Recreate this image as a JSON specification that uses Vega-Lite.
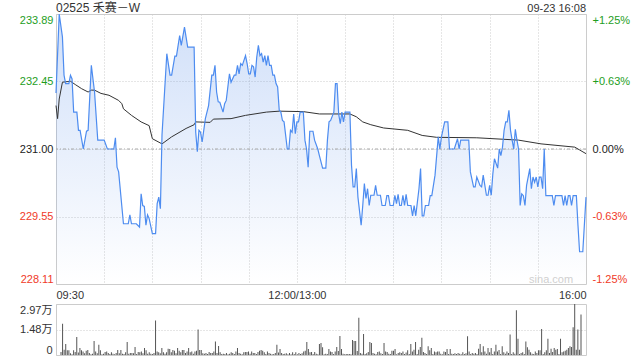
{
  "$schema": "https://vega.github.io/schema/vega-lite/v6.json",
  "padding": {"left": 18, "top": 1, "right": 5, "bottom": 0},
  "background": "white",
  "config": {
    "font": "Liberation Sans, Noto Sans CJK SC, sans-serif",
    "view": {"stroke": "#cccccc"},
    "axis": {
      "labelFont": "Liberation Sans, Noto Sans CJK SC, sans-serif",
      "labelFontSize": 11,
      "labelColor": "#333333",
      "ticks": false,
      "domain": false,
      "gridColor": "#cccccc",
      "gridDash": [1, 2],
      "title": null
    }
  },
  "datasets": {
    "price": [
      {"t":0,"p":232.20},{"t":2,"p":233.89},{"t":4,"p":233.40},{"t":5,"p":232.58},{"t":6,"p":232.40},{"t":8,"p":232.40},{"t":9,"p":232.58},{"t":10,"p":232.50},{"t":11,"p":231.79},{"t":13,"p":231.79},{"t":14,"p":231.40},{"t":15,"p":231.40},{"t":17,"p":231.00},{"t":19,"p":231.38},{"t":20,"p":231.40},{"t":22,"p":232.79},{"t":24,"p":232.22},{"t":26,"p":231.19},{"t":30,"p":231.19},{"t":32,"p":231.00},{"t":36,"p":231.00},{"t":37,"p":231.24},{"t":38,"p":230.61},{"t":39,"p":230.51},{"t":42,"p":229.40},{"t":45,"p":229.40},{"t":46,"p":229.59},{"t":47,"p":229.40},{"t":50,"p":229.40},{"t":52,"p":229.33},{"t":53,"p":230.04},{"t":54,"p":229.79},{"t":55,"p":229.77},{"t":56,"p":229.37},{"t":57,"p":229.59},{"t":58,"p":229.51},{"t":60,"p":229.19},{"t":62,"p":229.19},{"t":63,"p":229.83},{"t":64,"p":229.97},{"t":65,"p":229.72},{"t":66,"p":231.30},{"t":69,"p":233.04},{"t":71,"p":232.58},{"t":72,"p":232.58},{"t":74,"p":232.99},{"t":75,"p":232.99},{"t":77,"p":233.43},{"t":78,"p":233.22},{"t":80,"p":233.61},{"t":82,"p":233.18},{"t":86,"p":233.18},{"t":87,"p":231.36},{"t":88,"p":230.94},{"t":89,"p":231.40},{"t":90,"p":231.36},{"t":91,"p":231.15},{"t":93,"p":231.65},{"t":95,"p":231.93},{"t":97,"p":232.58},{"t":98,"p":232.58},{"t":99,"p":232.79},{"t":100,"p":232.22},{"t":101,"p":232.01},{"t":102,"p":232.00},{"t":104,"p":231.79},{"t":105,"p":231.97},{"t":106,"p":232.04},{"t":108,"p":232.61},{"t":109,"p":232.43},{"t":111,"p":232.58},{"t":112,"p":232.58},{"t":113,"p":232.79},{"t":114,"p":232.61},{"t":115,"p":232.83},{"t":116,"p":232.79},{"t":118,"p":233.00},{"t":119,"p":232.83},{"t":120,"p":232.61},{"t":121,"p":232.61},{"t":122,"p":232.79},{"t":123,"p":232.76},{"t":124,"p":232.54},{"t":125,"p":232.97},{"t":126,"p":233.22},{"t":127,"p":233.00},{"t":128,"p":233.04},{"t":129,"p":232.86},{"t":130,"p":233.00},{"t":131,"p":232.79},{"t":132,"p":233.00},{"t":133,"p":232.79},{"t":134,"p":232.79},{"t":135,"p":232.58},{"t":136,"p":232.58},{"t":137,"p":232.40},{"t":138,"p":232.33},{"t":139,"p":231.83},{"t":140,"p":231.79},{"t":141,"p":231.61},{"t":142,"p":231.58},{"t":144,"p":231.00},{"t":145,"p":231.00},{"t":146,"p":231.40},{"t":147,"p":231.36},{"t":148,"p":231.75},{"t":149,"p":231.33},{"t":150,"p":231.58},{"t":151,"p":231.58},{"t":152,"p":231.79},{"t":154,"p":231.79},{"t":155,"p":231.19},{"t":156,"p":231.00},{"t":157,"p":230.61},{"t":158,"p":231.38},{"t":160,"p":231.38},{"t":161,"p":231.19},{"t":163,"p":231.00},{"t":164,"p":230.86},{"t":166,"p":230.59},{"t":168,"p":230.59},{"t":169,"p":231.19},{"t":170,"p":231.58},{"t":171,"p":231.61},{"t":173,"p":231.79},{"t":174,"p":232.40},{"t":175,"p":232.40},{"t":176,"p":231.75},{"t":177,"p":231.54},{"t":178,"p":231.79},{"t":179,"p":231.58},{"t":180,"p":231.79},{"t":183,"p":231.79},{"t":184,"p":230.65},{"t":185,"p":230.19},{"t":186,"p":230.19},{"t":187,"p":230.58},{"t":188,"p":229.97},{"t":190,"p":229.37},{"t":191,"p":229.79},{"t":192,"p":230.26},{"t":193,"p":229.94},{"t":194,"p":230.15},{"t":195,"p":229.79},{"t":196,"p":230.01},{"t":198,"p":230.01},{"t":199,"p":230.22},{"t":200,"p":230.01},{"t":202,"p":230.01},{"t":203,"p":229.79},{"t":205,"p":229.79},{"t":206,"p":230.00},{"t":207,"p":230.00},{"t":208,"p":229.79},{"t":210,"p":229.79},{"t":211,"p":230.01},{"t":212,"p":229.83},{"t":213,"p":230.03},{"t":214,"p":229.79},{"t":215,"p":229.79},{"t":216,"p":230.01},{"t":217,"p":229.79},{"t":218,"p":230.03},{"t":219,"p":229.79},{"t":221,"p":229.79},{"t":222,"p":229.57},{"t":223,"p":229.79},{"t":224,"p":229.57},{"t":226,"p":230.15},{"t":227,"p":230.58},{"t":228,"p":229.57},{"t":229,"p":229.57},{"t":230,"p":229.79},{"t":232,"p":229.79},{"t":233,"p":230.00},{"t":234,"p":230.00},{"t":236,"p":230.44},{"t":238,"p":231.26},{"t":239,"p":231.00},{"t":240,"p":231.26},{"t":242,"p":231.58},{"t":244,"p":231.58},{"t":245,"p":231.00},{"t":248,"p":231.00},{"t":250,"p":231.22},{"t":251,"p":231.00},{"t":252,"p":231.19},{"t":257,"p":231.19},{"t":258,"p":230.51},{"t":260,"p":230.19},{"t":261,"p":230.19},{"t":262,"p":230.40},{"t":264,"p":230.22},{"t":265,"p":230.19},{"t":266,"p":230.44},{"t":268,"p":230.01},{"t":269,"p":230.01},{"t":270,"p":230.22},{"t":271,"p":230.01},{"t":272,"p":230.47},{"t":273,"p":230.79},{"t":275,"p":230.59},{"t":276,"p":231.00},{"t":277,"p":230.86},{"t":278,"p":231.04},{"t":279,"p":231.40},{"t":280,"p":231.58},{"t":281,"p":231.58},{"t":282,"p":231.83},{"t":283,"p":231.40},{"t":284,"p":231.19},{"t":285,"p":231.00},{"t":286,"p":231.42},{"t":287,"p":231.19},{"t":288,"p":231.00},{"t":289,"p":229.79},{"t":290,"p":230.04},{"t":291,"p":230.00},{"t":292,"p":229.79},{"t":293,"p":230.22},{"t":295,"p":230.58},{"t":296,"p":230.15},{"t":297,"p":230.40},{"t":298,"p":230.29},{"t":299,"p":230.40},{"t":300,"p":230.19},{"t":301,"p":230.40},{"t":302,"p":230.40},{"t":303,"p":230.15},{"t":304,"p":231.00},{"t":305,"p":230.00},{"t":309,"p":230.00},{"t":310,"p":229.79},{"t":311,"p":230.00},{"t":315,"p":230.00},{"t":316,"p":229.79},{"t":317,"p":230.00},{"t":318,"p":229.79},{"t":319,"p":230.00},{"t":320,"p":230.00},{"t":321,"p":229.79},{"t":322,"p":230.00},{"t":324,"p":230.00},{"t":325,"p":229.37},{"t":326,"p":228.80},{"t":328,"p":228.80},{"t":330,"p":229.97}
    ],
    "avg": [
      {"t":0,"a":231.93},{"t":1,"a":231.65},{"t":2,"a":232.07},{"t":4,"a":232.43},{"t":9,"a":232.45},{"t":12,"a":232.38},{"t":16,"a":232.29},{"t":20,"a":232.22},{"t":22,"a":232.26},{"t":24,"a":232.26},{"t":28,"a":232.19},{"t":33,"a":232.15},{"t":39,"a":232.04},{"t":41,"a":231.97},{"t":42,"a":231.86},{"t":47,"a":231.72},{"t":53,"a":231.58},{"t":58,"a":231.50},{"t":60,"a":231.22},{"t":66,"a":231.11},{"t":72,"a":231.26},{"t":81,"a":231.44},{"t":86,"a":231.52},{"t":87,"a":231.58},{"t":96,"a":231.57},{"t":98,"a":231.64},{"t":109,"a":231.65},{"t":118,"a":231.72},{"t":131,"a":231.79},{"t":139,"a":231.81},{"t":154,"a":231.80},{"t":164,"a":231.75},{"t":183,"a":231.75},{"t":187,"a":231.69},{"t":191,"a":231.58},{"t":196,"a":231.52},{"t":204,"a":231.45},{"t":219,"a":231.40},{"t":228,"a":231.29},{"t":237,"a":231.25},{"t":262,"a":231.24},{"t":288,"a":231.19},{"t":302,"a":231.11},{"t":323,"a":231.04},{"t":326,"a":230.98},{"t":330,"a":230.90}
    ],
    "vol": [
      {"t":0,"v":0.18},{"t":1,"v":1.82},{"t":2,"v":0.3},{"t":3,"v":0.64},{"t":4,"v":0.27},{"t":5,"v":0.27},{"t":6,"v":0.1},{"t":7,"v":0.05},{"t":8,"v":0.27},{"t":9,"v":0.18},
      {"t":10,"v":1.05},{"t":11,"v":0.15},{"t":12,"v":0.41},{"t":13,"v":0.27},{"t":14,"v":0.21},{"t":15,"v":0.1},{"t":16,"v":0.25},{"t":17,"v":0.29},{"t":18,"v":0.12},{"t":19,"v":0.05},
      {"t":20,"v":0.08},{"t":21,"v":0.82},{"t":22,"v":0.21},{"t":23,"v":0.1},{"t":24,"v":0.59},{"t":25,"v":0.27},{"t":26,"v":0.05},{"t":27,"v":0.08},{"t":28,"v":0.18},{"t":29,"v":0.21},
      {"t":30,"v":0.12},{"t":31,"v":0.06},{"t":32,"v":0.16},{"t":33,"v":0.08},{"t":34,"v":0.05},{"t":35,"v":0.12},{"t":36,"v":0.29},{"t":37,"v":0.1},{"t":38,"v":0.29},{"t":39,"v":0.08},
      {"t":40,"v":0.06},{"t":41,"v":0.16},{"t":42,"v":0.76},{"t":43,"v":0.08},{"t":44,"v":0.12},{"t":45,"v":0.12},{"t":46,"v":0.1},{"t":47,"v":0.47},{"t":48,"v":0.06},{"t":49,"v":0.18},
      {"t":50,"v":0.16},{"t":51,"v":0.2},{"t":52,"v":0.1},{"t":53,"v":0.41},{"t":54,"v":0.27},{"t":55,"v":0.08},{"t":56,"v":0.16},{"t":57,"v":0.08},{"t":58,"v":0.06},{"t":59,"v":0.12},
      {"t":60,"v":2.01},{"t":61,"v":0.21},{"t":62,"v":0.16},{"t":63,"v":0.1},{"t":64,"v":0.41},{"t":65,"v":0.16},{"t":66,"v":0.08},{"t":67,"v":0.16},{"t":68,"v":0.37},{"t":69,"v":0.35},
      {"t":70,"v":0.16},{"t":71,"v":0.29},{"t":72,"v":0.25},{"t":73,"v":0.1},{"t":74,"v":0.41},{"t":75,"v":0.25},{"t":76,"v":0.16},{"t":77,"v":0.29},{"t":78,"v":0.29},{"t":79,"v":0.12},
      {"t":80,"v":0.2},{"t":81,"v":0.41},{"t":82,"v":0.16},{"t":83,"v":0.21},{"t":84,"v":0.08},{"t":85,"v":0.21},{"t":86,"v":0.25},{"t":87,"v":1.48},{"t":88,"v":0.29},{"t":89,"v":0.29},
      {"t":90,"v":0.1},{"t":91,"v":0.08},{"t":92,"v":0.12},{"t":93,"v":0.06},{"t":94,"v":0.18},{"t":95,"v":0.12},{"t":96,"v":0.12},{"t":97,"v":0.21},{"t":98,"v":0.78},{"t":99,"v":0.12},
      {"t":100,"v":0.53},{"t":101,"v":0.16},{"t":102,"v":0.06},{"t":103,"v":0.08},{"t":104,"v":0.06},{"t":105,"v":0.12},{"t":106,"v":0.05},{"t":107,"v":0.08},{"t":108,"v":0.16},{"t":109,"v":0.12},
      {"t":110,"v":0.06},{"t":111,"v":0.21},{"t":112,"v":0.41},{"t":113,"v":0.12},{"t":114,"v":0.08},{"t":115,"v":0.05},{"t":116,"v":0.16},{"t":117,"v":0.18},{"t":118,"v":0.18},{"t":119,"v":0.21},
      {"t":120,"v":0.08},{"t":121,"v":0.21},{"t":122,"v":0.12},{"t":123,"v":0.12},{"t":124,"v":0.06},{"t":125,"v":0.18},{"t":126,"v":0.25},{"t":127,"v":0.29},{"t":128,"v":0.25},{"t":129,"v":0.16},
      {"t":130,"v":0.06},{"t":131,"v":0.21},{"t":132,"v":0.12},{"t":133,"v":0.08},{"t":134,"v":0.05},{"t":135,"v":0.06},{"t":136,"v":0.12},{"t":137,"v":0.59},{"t":138,"v":0.14},{"t":139,"v":0.35},
      {"t":140,"v":0.12},{"t":141,"v":0.06},{"t":142,"v":0.08},{"t":143,"v":0.1},{"t":144,"v":0.05},{"t":145,"v":0.12},{"t":146,"v":0.05},{"t":147,"v":0.16},{"t":148,"v":0.06},{"t":149,"v":0.16},
      {"t":150,"v":0.05},{"t":151,"v":0.12},{"t":152,"v":0.06},{"t":153,"v":0.1},{"t":154,"v":0.21},{"t":155,"v":0.25},{"t":156,"v":0.76},{"t":157,"v":0.35},{"t":158,"v":0.16},{"t":159,"v":0.18},
      {"t":160,"v":0.06},{"t":161,"v":0.18},{"t":162,"v":0.08},{"t":163,"v":0.05},{"t":164,"v":0.64},{"t":165,"v":0.7},{"t":166,"v":0.45},{"t":167,"v":0.05},{"t":168,"v":0.08},{"t":169,"v":0.06},
      {"t":170,"v":0.35},{"t":171,"v":0.21},{"t":172,"v":0.18},{"t":173,"v":0.06},{"t":174,"v":0.21},{"t":175,"v":0.47},{"t":176,"v":0.23},{"t":177,"v":1.11},{"t":178,"v":0.35},{"t":179,"v":0.08},
      {"t":180,"v":0.05},{"t":181,"v":0.06},{"t":182,"v":0.06},{"t":183,"v":0.06},{"t":184,"v":0.05},{"t":185,"v":0.88},{"t":186,"v":0.82},{"t":187,"v":0.82},{"t":188,"v":0.23},{"t":189,"v":2.17},
      {"t":190,"v":0.12},{"t":191,"v":0.08},{"t":192,"v":1.23},{"t":193,"v":0.06},{"t":194,"v":0.1},{"t":195,"v":0.18},{"t":196,"v":0.76},{"t":197,"v":0.7},{"t":198,"v":0.12},{"t":199,"v":0.08},
      {"t":200,"v":0.05},{"t":201,"v":0.18},{"t":202,"v":0.21},{"t":203,"v":0.1},{"t":204,"v":0.06},{"t":205,"v":0.7},{"t":206,"v":0.21},{"t":207,"v":0.18},{"t":208,"v":0.08},{"t":209,"v":0.06},
      {"t":210,"v":0.25},{"t":211,"v":0.25},{"t":212,"v":0.35},{"t":213,"v":0.05},{"t":214,"v":0.12},{"t":215,"v":0.16},{"t":216,"v":0.12},{"t":217,"v":0.21},{"t":218,"v":0.06},{"t":219,"v":0.14},
      {"t":220,"v":0.27},{"t":221,"v":0.06},{"t":222,"v":0.64},{"t":223,"v":0.21},{"t":224,"v":0.31},{"t":225,"v":0.76},{"t":226,"v":0.06},{"t":227,"v":0.31},{"t":228,"v":0.47},{"t":229,"v":1.0},
      {"t":230,"v":0.18},{"t":231,"v":0.12},{"t":232,"v":0.06},{"t":233,"v":0.51},{"t":234,"v":0.27},{"t":235,"v":0.41},{"t":236,"v":0.06},{"t":237,"v":0.21},{"t":238,"v":0.16},{"t":239,"v":0.21},
      {"t":240,"v":0.21},{"t":241,"v":0.08},{"t":242,"v":0.05},{"t":243,"v":0.21},{"t":244,"v":0.18},{"t":245,"v":0.35},{"t":246,"v":0.06},{"t":247,"v":0.35},{"t":248,"v":0.08},{"t":249,"v":0.06},
      {"t":250,"v":0.1},{"t":251,"v":0.06},{"t":252,"v":0.12},{"t":253,"v":0.08},{"t":254,"v":0.05},{"t":255,"v":0.16},{"t":256,"v":0.06},{"t":257,"v":0.1},{"t":258,"v":1.09},{"t":259,"v":0.21},
      {"t":260,"v":0.06},{"t":261,"v":0.12},{"t":262,"v":0.08},{"t":263,"v":0.12},{"t":264,"v":0.06},{"t":265,"v":0.37},{"t":266,"v":0.64},{"t":267,"v":0.16},{"t":268,"v":0.51},{"t":269,"v":0.21},
      {"t":270,"v":0.08},{"t":271,"v":0.41},{"t":272,"v":0.16},{"t":273,"v":0.41},{"t":274,"v":0.06},{"t":275,"v":0.21},{"t":276,"v":0.59},{"t":277,"v":0.21},{"t":278,"v":0.29},{"t":279,"v":0.06},
      {"t":280,"v":0.51},{"t":281,"v":0.16},{"t":282,"v":0.08},{"t":283,"v":0.21},{"t":284,"v":0.12},{"t":285,"v":1.19},{"t":286,"v":0.06},{"t":287,"v":0.16},{"t":288,"v":0.08},{"t":289,"v":2.6},
      {"t":290,"v":0.94},{"t":291,"v":0.06},{"t":292,"v":0.12},{"t":293,"v":0.16},{"t":294,"v":0.06},{"t":295,"v":0.78},{"t":296,"v":0.45},{"t":297,"v":0.31},{"t":298,"v":0.16},{"t":299,"v":0.08},
      {"t":300,"v":0.06},{"t":301,"v":0.21},{"t":302,"v":0.12},{"t":303,"v":0.27},{"t":304,"v":0.27},{"t":305,"v":1.52},{"t":306,"v":0.06},{"t":307,"v":0.16},{"t":308,"v":0.27},{"t":309,"v":0.94},
      {"t":310,"v":0.12},{"t":311,"v":0.37},{"t":312,"v":0.18},{"t":313,"v":0.41},{"t":314,"v":0.31},{"t":315,"v":0.35},{"t":316,"v":0.06},{"t":317,"v":0.94},{"t":318,"v":0.16},{"t":319,"v":0.21},
      {"t":320,"v":0.25},{"t":321,"v":0.31},{"t":322,"v":0.41},{"t":323,"v":0.51},{"t":324,"v":0.47},{"t":325,"v":1.62},{"t":326,"v":2.97},{"t":327,"v":0.3},{"t":328,"v":1.48},{"t":329,"v":0.3},
      {"t":330,"v":2.36}
    ]
  },
  "vconcat": [
    {
      "width": 530,
      "height": 270,
      "layer": [
        {
          "data": {"name": "price"},
          "mark": {
            "type": "area",
            "color": {
              "gradient": "linear", "x1": 0, "y1": 0, "x2": 0, "y2": 1,
              "stops": [
                {"offset": 0, "color": "rgba(100,150,235,0.30)"},
                {"offset": 1, "color": "rgba(100,150,235,0.0)"}
              ]
            }
          },
          "encoding": {
            "x": {
              "field": "t", "type": "quantitative",
              "scale": {"domain": [0, 330], "nice": false, "zero": false},
              "axis": {
                "values": [0, 30, 60, 90, 120, 150, 180, 210, 240, 270, 300, 330],
                "labelExpr": "datum.value == 0 ? '09:30' : datum.value == 150 ? '12:00/13:00' : datum.value == 330 ? '16:00' : ''",
                "labelFlush": true,
                "labelOverlap": false,
                "labelPadding": 5,
                "grid": true
              }
            },
            "y": {
              "field": "p", "type": "quantitative",
              "scale": {"domain": [228.11, 233.89], "nice": false, "zero": false},
              "axis": {
                "orient": "left",
                "values": [228.11, 229.55, 231.0, 232.45, 233.89],
                "format": ".2f",
                "labelFlush": true,
                "labelPadding": 3,
                "grid": true,
                "labelColor": {
                  "condition": [
                    {"test": "datum.value > 231.001", "value": "#1e9e1e"},
                    {"test": "datum.value < 230.999", "value": "#f03a28"}
                  ],
                  "value": "#222222"
                }
              }
            },
            "y2": {"datum": 228.11}
          }
        },
        {
          "data": {"values": [{}]},
          "mark": {"type": "rule", "color": "#a8a8a8", "strokeDash": [3, 2, 1, 2]},
          "encoding": {"y": {"datum": 231.0, "axis": null}}
        },
        {
          "data": {"name": "avg"},
          "mark": {"type": "line", "color": "#333333", "strokeWidth": 1},
          "encoding": {
            "x": {"field": "t", "type": "quantitative"},
            "y": {"field": "a", "type": "quantitative", "axis": null}
          }
        },
        {
          "data": {"name": "price"},
          "mark": {"type": "line", "color": "#4d8cf0", "strokeWidth": 1.2},
          "encoding": {
            "x": {"field": "t", "type": "quantitative"},
            "y": {
              "field": "p", "type": "quantitative",
              "axis": {
                "orient": "right",
                "values": [228.11, 229.55, 231.0, 232.45, 233.89],
                "labelExpr": "(datum.value > 231.001 ? '+' : datum.value < 230.999 ? '-' : '') + format(abs(datum.value - 231) / 231 * 100, '.2f') + '%'",
                "labelFlush": true,
                "labelPadding": 6,
                "grid": false,
                "labelColor": {
                  "condition": [
                    {"test": "datum.value > 231.001", "value": "#1e9e1e"},
                    {"test": "datum.value < 230.999", "value": "#f03a28"}
                  ],
                  "value": "#222222"
                }
              }
            }
          }
        },
        {
          "data": {"values": [{"label": "02525 禾赛－W"}]},
          "mark": {"type": "text", "align": "left", "baseline": "alphabetic", "dy": -2, "fontSize": 12, "color": "#333333"},
          "encoding": {
            "x": {"datum": 0},
            "y": {"datum": 233.89, "axis": null},
            "text": {"field": "label"}
          }
        },
        {
          "data": {"values": [{"label": "09-23 16:08"}]},
          "mark": {"type": "text", "align": "right", "baseline": "alphabetic", "dy": -2, "fontSize": 11, "color": "#333333"},
          "encoding": {
            "x": {"datum": 330},
            "y": {"datum": 233.89, "axis": null},
            "text": {"field": "label"}
          }
        },
        {
          "data": {"values": [{"label": "sina.com"}]},
          "mark": {"type": "text", "align": "right", "baseline": "alphabetic", "fontSize": 11, "color": "#d0d0d0"},
          "encoding": {
            "x": {"datum": 322},
            "y": {"datum": 228.14, "axis": null},
            "text": {"field": "label"}
          }
        }
      ],
      "resolve": {"axis": {"y": "independent"}}
    },
    {
      "width": 530,
      "height": 51,
      "data": {"name": "vol"},
      "mark": {"type": "bar", "size": 1, "color": "#555555"},
      "encoding": {
        "x": {
          "field": "t", "type": "quantitative",
          "scale": {"domain": [0, 330], "nice": false, "zero": false},
          "axis": null
        },
        "y": {
          "field": "v", "type": "quantitative",
          "scale": {"domain": [0, 2.97], "nice": false},
          "axis": {
            "values": [0, 1.48, 2.97],
            "labelExpr": "datum.value == 0 ? '0' : format(datum.value, '.2f') + '万'",
            "labelFlush": true,
            "labelPadding": 4,
            "grid": true
          }
        }
      }
    }
  ],
  "spacing": 20,
  "bounds": "flush"
}
